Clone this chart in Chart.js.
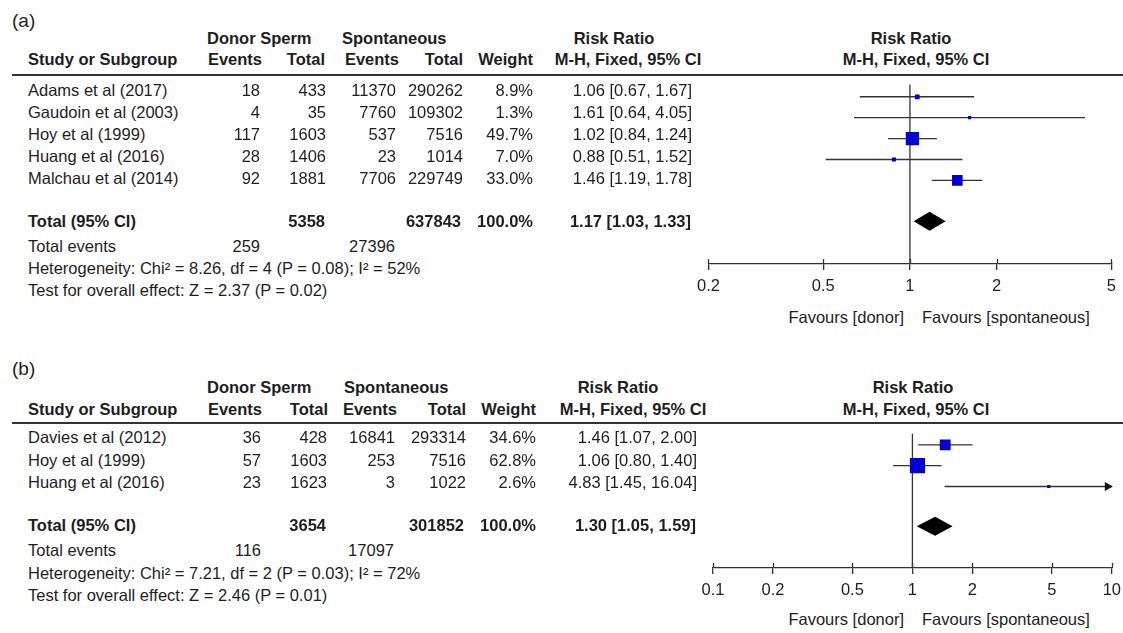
<!DOCTYPE html>
<html>
<head>
<meta charset="utf-8">
<script src="https://cdn.jsdelivr.net/npm/chart.js@4.4.0/dist/chart.umd.min.js"></script>
<style>
html, body { margin: 0; padding: 0; background: #fff; }
body { width: 1123px; height: 633px; position: relative; overflow: hidden;
       font-family: "Liberation Sans", Arial, sans-serif; font-size: 16.5px; color: #1e1e1e; }
.t { position: absolute; white-space: nowrap; line-height: 20px; }
.b { font-weight: bold; }
.rule { position: absolute; height: 1.5px; background: #333; }
canvas { position: absolute; }
</style>
</head>
<body>
<canvas id="plotA"></canvas>
<canvas id="plotB"></canvas>
<script>
// ---- panel (a)
const studiesA = ["Adams et al (2017)", "Gaudoin et al (2003)", "Hoy et al (1999)", "Huang et al (2016)", "Malchau et al (2014)"];
const donorEventsA = [18, 4, 117, 28, 92];
const donorTotalA = [433, 35, 1603, 1406, 1881];
const spontEventsA = [11370, 7760, 537, 23, 7706];
const spontTotalA = [290262, 109302, 7516, 1014, 229749];
const weightA = [8.9, 1.3, 49.7, 7.0, 33.0];
const rrA = [1.06, 1.61, 1.02, 0.88, 1.46];
const loA = [0.67, 0.64, 0.84, 0.51, 1.19];
const hiA = [1.67, 4.05, 1.24, 1.52, 1.78];
const pooledA = [1.17, 1.03, 1.33];
const totalsA = [5358, 637843, 100.0];
const totalEventsA = [259, 27396];
const hetA = "Heterogeneity: Chi² = 8.26, df = 4 (P = 0.08); I² = 52%";
const effectA = "Test for overall effect: Z = 2.37 (P = 0.02)";
const ticksA = [0.2, 0.5, 1, 2, 5];

// ---- panel (b)
const studiesB = ["Davies et al (2012)", "Hoy et al (1999)", "Huang et al (2016)"];
const donorEventsB = [36, 57, 23];
const donorTotalB = [428, 1603, 1623];
const spontEventsB = [16841, 253, 3];
const spontTotalB = [293314, 7516, 1022];
const weightB = [34.6, 62.8, 2.6];
const rrB = [1.46, 1.06, 4.83];
const loB = [1.07, 0.80, 1.45];
const hiB = [2.00, 1.40, 16.04];
const pooledB = [1.30, 1.05, 1.59];
const totalsB = [3654, 301852, 100.0];
const totalEventsB = [116, 17097];
const hetB = "Heterogeneity: Chi² = 7.21, df = 2 (P = 0.03); I² = 72%";
const effectB = "Test for overall effect: Z = 2.46 (P = 0.01)";
const ticksB = [0.1, 0.2, 0.5, 1, 2, 5, 10];

// layout (pixels) for each panel
const layA = { tag: "(a)", tagY: 21, head1: 38, head2: 59, rule: 75, row0: 88, step: 22, total: 219,
  foot: [246, 268, 290], axis: 264, fav: 317, cx: 690, padL: 18, padR: 9, cw: 433,
  cols: [260, 326, 396, 463, 533, 692], hcols: [262, 325, 399, 463, 533],
  donor: 207, spont: 342, rrHead: 614, mhHead: 628, fpHead: 911, fpMh: 916 };
const layB = { tag: "(b)", tagY: 369, head1: 387, head2: 409, rule: 423, row0: 435, step: 22.5, total: 523,
  foot: [550, 573, 595], axis: 568, fav: 619, cx: 690, padL: 23, padR: 13, cw: 438,
  cols: [261, 327, 395, 466, 536, 697], hcols: [262, 328, 397, 466, 536],
  donor: 207, spont: 344, rrHead: 618, mhHead: 633, fpHead: 913, fpMh: 916 };

function put(str, x, y, align, bold, size) {
  const d = document.createElement('div');
  d.className = 't' + (bold ? ' b' : '');
  d.textContent = str;
  d.style.top = (y - 10) + 'px';
  if (size) d.style.fontSize = size + 'px';
  if (align === 'right') d.style.right = (1123 - x) + 'px';
  else if (align === 'center') { d.style.left = x + 'px'; d.style.transform = 'translateX(-50%)'; }
  else d.style.left = x + 'px';
  document.body.appendChild(d);
}

const ci = (r, l, h) => `${r.toFixed(2)} [${l.toFixed(2)}, ${h.toFixed(2)}]`;

function table(L, studies, de, dt, se, st, w, rr, lo, hi, pooled, totals, totEv, het, eff) {
  put(L.tag, 12, L.tagY, 'left', false, 19);
  put('Donor Sperm', L.donor, L.head1, 'left', true);
  put('Spontaneous', L.spont, L.head1, 'left', true);
  put('Risk Ratio', L.rrHead, L.head1, 'center', true);
  put('Risk Ratio', L.fpHead, L.head1, 'center', true);
  put('Study or Subgroup', 28, L.head2, 'left', true);
  ['Events', 'Total', 'Events', 'Total', 'Weight'].forEach((h, i) => put(h, L.hcols[i], L.head2, 'right', true));
  put('M-H, Fixed, 95% CI', L.mhHead, L.head2, 'center', true);
  put('M-H, Fixed, 95% CI', L.fpMh, L.head2, 'center', true);

  const rule = document.createElement('div');
  rule.className = 'rule';
  rule.style.left = '12px'; rule.style.width = '1111px'; rule.style.top = (L.rule - 0.75) + 'px';
  document.body.appendChild(rule);

  studies.forEach((s, i) => {
    const y = L.row0 + i * L.step + 2;
    put(s, 28, y, 'left');
    put(String(de[i]), L.cols[0], y, 'right');
    put(String(dt[i]), L.cols[1], y, 'right');
    put(String(se[i]), L.cols[2], y, 'right');
    put(String(st[i]), L.cols[3], y, 'right');
    put(w[i].toFixed(1) + '%', L.cols[4], y, 'right');
    put(ci(rr[i], lo[i], hi[i]), L.cols[5], y, 'right');
  });
  const ty = L.total + 2;
  put('Total (95% CI)', 28, ty, 'left', true);
  put(String(totals[0]), L.cols[1] - 1, ty, 'right', true);
  put(String(totals[1]), L.cols[3] - 2, ty, 'right', true);
  put(totals[2].toFixed(1) + '%', L.cols[4], ty, 'right', true);
  put(ci(pooled[0], pooled[1], pooled[2]), L.cols[5] - 1, ty, 'right', true);
  put('Total events', 28, L.foot[0], 'left');
  put(String(totEv[0]), L.cols[0], L.foot[0], 'right');
  put(String(totEv[1]), L.cols[2] - 1, L.foot[0], 'right');
  put(het, 28, L.foot[1], 'left');
  put(eff, 28, L.foot[2], 'left');
  put('Favours [donor]', 904, L.fav, 'right');
  put('Favours [spontaneous]', 922, L.fav, 'left');
}

const forestExtras = {
  id: 'forestExtras',
  beforeDatasetsDraw(chart) {
    const { ctx, chartArea } = chart;
    const x = chart.scales.x.getPixelForValue(1);
    ctx.save();
    ctx.strokeStyle = '#333'; ctx.lineWidth = 1.3;
    ctx.beginPath(); ctx.moveTo(x, chartArea.top); ctx.lineTo(x, chartArea.bottom); ctx.stroke();
    ctx.restore();
  },
  afterDatasetsDraw(chart, args, opts) {
    const { ctx, chartArea } = chart;
    const xs = chart.scales.x, ys = chart.scales.y;
    // pooled diamond
    const yc = ys.getPixelForValue(opts.totalIdx);
    const xe = xs.getPixelForValue(opts.pooled[0]);
    const xl = xs.getPixelForValue(opts.pooled[1]);
    const xh = xs.getPixelForValue(opts.pooled[2]);
    ctx.save();
    ctx.fillStyle = '#000';
    ctx.beginPath();
    ctx.moveTo(xl, yc); ctx.lineTo(xe, yc - 9.5); ctx.lineTo(xh, yc); ctx.lineTo(xe, yc + 9.5);
    ctx.closePath(); ctx.fill();
    // arrows for intervals running off the scale
    opts.hi.forEach((h, i) => {
      if (h > xs.max) {
        const y = ys.getPixelForValue(i);
        const tip = chartArea.right + 1;
        ctx.fillStyle = '#111';
        ctx.beginPath();
        ctx.moveTo(tip, y); ctx.lineTo(tip - 8, y - 4.5); ctx.lineTo(tip - 8, y + 4.5);
        ctx.closePath(); ctx.fill();
      }
    });
    ctx.restore();
  },
  afterDraw(chart) {
    const { ctx, chartArea } = chart;
    const xs = chart.scales.x;
    ctx.save();
    ctx.strokeStyle = '#333'; ctx.lineWidth = 1.3;
    xs.ticks.forEach(t => {
      const x = Math.round(xs.getPixelForValue(t.value)) + 0.5;
      ctx.beginPath(); ctx.moveTo(x, chartArea.bottom - 5); ctx.lineTo(x, chartArea.bottom); ctx.stroke();
    });
    ctx.restore();
  }
};

function forest(id, L, rr, lo, hi, w, pooled, ticks) {
  const axisH = 40;
  const cv = document.getElementById(id);
  cv.width = L.cw;
  cv.height = (L.axis - L.rule) + axisH;
  cv.style.left = L.cx + 'px';
  cv.style.top = L.rule + 'px';

  // y in row units, top of plot = header rule
  const yMin = -(L.row0 - L.rule) / L.step;
  const yMax = yMin + (L.axis - L.rule) / L.step;
  const totalIdx = (L.total - L.row0) / L.step;

  const datasets = [{
    type: 'scatter',
    data: rr.map((v, i) => ({ x: v, y: i })),
    pointStyle: 'rect',
    pointRadius: w.map(v => Math.max(3.2, 2.1 * Math.sqrt(v) - 1.5) / Math.SQRT2),
    backgroundColor: '#0000d2',
    borderWidth: 0,
    order: 0
  }];
  lo.forEach((l, i) => datasets.push({
    type: 'line',
    data: [{ x: l, y: i }, { x: hi[i], y: i }],
    borderColor: '#333', borderWidth: 1.3, pointRadius: 0, order: 1
  }));

  new Chart(cv, {
    type: 'scatter',
    data: { datasets },
    options: {
      responsive: false,
      animation: false,
      events: [],
      layout: { padding: { left: L.padL, right: L.padR, top: 0, bottom: 0 } },
      plugins: {
        legend: { display: false },
        tooltip: { enabled: false },
        forestExtras: { pooled, totalIdx, hi }
      },
      scales: {
        x: {
          type: 'logarithmic',
          min: ticks[0], max: ticks[ticks.length - 1],
          afterBuildTicks: s => { s.ticks = ticks.map(v => ({ value: v })); },
          afterFit: s => { s.height = axisH; },
          ticks: {
            callback: v => String(v),
            autoSkip: false, maxRotation: 0, padding: 7,
            color: '#1e1e1e', font: { family: '"Liberation Sans", Arial, sans-serif', size: 16.5 }
          },
          grid: { drawOnChartArea: false, drawTicks: true, tickLength: 6, color: '#333', lineWidth: 1.3 },
          border: { display: true, color: '#333', width: 1.3 }
        },
        y: { type: 'linear', display: false, reverse: true, min: yMin, max: yMax }
      }
    },
    plugins: [forestExtras]
  });
}

table(layA, studiesA, donorEventsA, donorTotalA, spontEventsA, spontTotalA, weightA, rrA, loA, hiA,
      pooledA, totalsA, totalEventsA, hetA, effectA);
table(layB, studiesB, donorEventsB, donorTotalB, spontEventsB, spontTotalB, weightB, rrB, loB, hiB,
      pooledB, totalsB, totalEventsB, hetB, effectB);
forest('plotA', layA, rrA, loA, hiA, weightA, pooledA, ticksA);
forest('plotB', layB, rrB, loB, hiB, weightB, pooledB, ticksB);
</script>
</body>
</html>
